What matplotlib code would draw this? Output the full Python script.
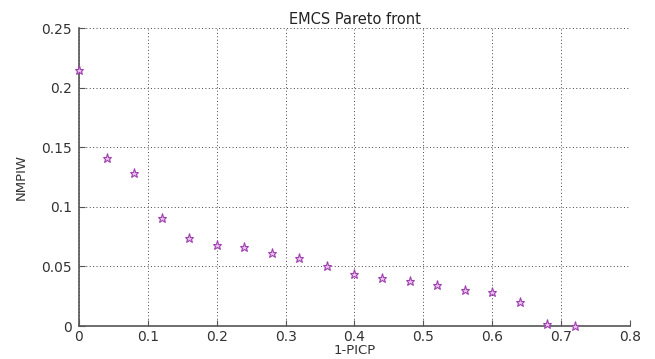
import matplotlib
matplotlib.use("Agg")
import matplotlib.pyplot as plt

plt.rcParams['font.family'] = ['DejaVu Sans']

x_vals = [0.0, 0.04, 0.08, 0.12, 0.16, 0.20, 0.24, 0.28, 0.32, 0.36,
          0.40, 0.44, 0.48, 0.52, 0.56, 0.60, 0.64, 0.68, 0.72]
y_vals = [0.215, 0.141, 0.128, 0.091, 0.074, 0.068, 0.066, 0.061, 0.057, 0.050,
          0.044, 0.040, 0.038, 0.034, 0.030, 0.0285, 0.020, 0.002, 0.0]
x_ticks = [0, 0.1, 0.2, 0.3, 0.4, 0.5, 0.6, 0.7, 0.8]
x_labels = ['0', '0.1', '0.2', '0.3', '0.4', '0.5', '0.6', '0.7', '0.8']
y_ticks = [0, 0.05, 0.1, 0.15, 0.2, 0.25]
y_labels = ['0', '0.05', '0.1', '0.15', '0.2', '0.25']

fig = plt.figure(figsize=(6.55, 3.59), dpi=100)
ax = fig.add_axes([0.1206, 0.0919, 0.8412, 0.8301])
ax.plot(x_vals, y_vals, linestyle='none', marker='*', markersize=6.5,
        markerfacecolor='#e8c0ec', markeredgecolor='#a040b0', markeredgewidth=0.8,
        clip_on=False, zorder=3)
ax.set_xlim(0, 0.8)
ax.set_ylim(0, 0.25)
ax.set_xticks(x_ticks)
ax.set_xticklabels(x_labels)
ax.set_yticks(y_ticks)
ax.set_yticklabels(y_labels)
ax.grid(True, linestyle=(0, (1, 2.5)), color='#444444', linewidth=0.7)
ax.spines['top'].set_visible(False)
ax.spines['right'].set_visible(False)
ax.spines['left'].set_color('#555555')
ax.spines['bottom'].set_color('#555555')
ax.spines['left'].set_linewidth(1.2)
ax.spines['bottom'].set_linewidth(1.2)
ax.tick_params(direction='in', length=4, labelsize=10, colors='#555555',
               labelcolor='#333333')
ax.tick_params(axis='y', pad=5)
ax.tick_params(axis='x', pad=3)
ax.set_title('EMCS Pareto front', fontsize=10.5, color='#222222', pad=3)
ax.set_xlabel('1-PICP', fontsize=9.5, color='#333333', labelpad=0)
ax.set_ylabel('NMPIW', fontsize=9.5, color='#333333', labelpad=10)
fig.savefig('out.png', dpi=100, facecolor='white')
